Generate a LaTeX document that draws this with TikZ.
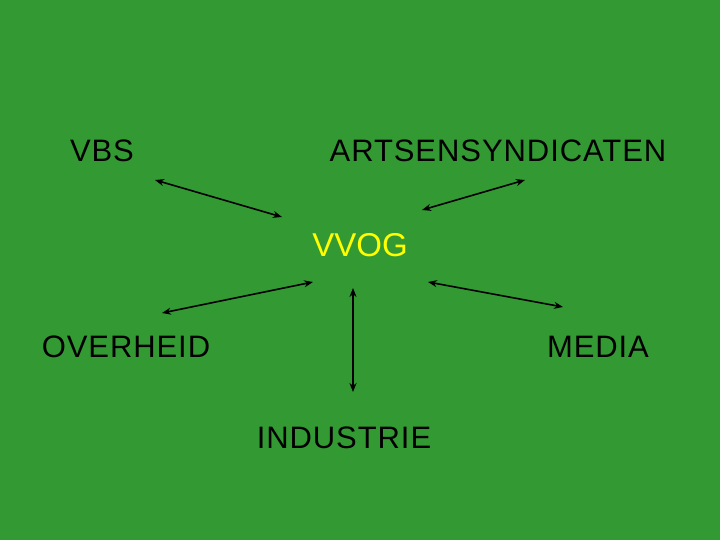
\documentclass[tikz,border=0pt]{standalone}
\usepackage{fontspec}
\setmainfont{Liberation Sans}
\usetikzlibrary{arrows.meta}
\definecolor{bg}{HTML}{339933}
\definecolor{vv}{HTML}{FFFF00}
\begin{document}
\begin{tikzpicture}[x=1pt,y=-1pt,
  lbl/.style={font=\addfontfeatures{LetterSpace=3}\fontsize{31}{36}\selectfont,text=black,inner sep=0pt},
  link/.style={{Stealth[length=9pt,width=7pt]}-{Stealth[length=9pt,width=7pt]},line width=1.6pt,black}]
\fill[bg] (0,0) rectangle (720,540);
\useasboundingbox (0,0) rectangle (720,540);
\node[lbl] (vbs) at (102,151) {VBS};
\node[lbl] (arts) at (498,151) {ARTSENSYNDICATEN};
\node[lbl,text=vv,font=\fontsize{33}{38}\selectfont] (vvog) at (360,245) {VVOG};
\node[lbl] (ov) at (126,347) {OVERHEID};
\node[lbl] (media) at (598,347) {MEDIA};
\node[lbl] (ind) at (344,438) {INDUSTRIE};
\coordinate (a1) at (155,180); \coordinate (b1) at (282,217);
\coordinate (a2) at (525,180); \coordinate (b2) at (422,210);
\coordinate (a3) at (313,282); \coordinate (b3) at (162,313);
\coordinate (a4) at (353,288); \coordinate (b4) at (353,392);
\coordinate (a5) at (428,282); \coordinate (b5) at (563,307);
\draw[link] (a1) -- (b1);
\draw[link] (a2) -- (b2);
\draw[link] (a3) -- (b3);
\draw[link] (a4) -- (b4);
\draw[link] (a5) -- (b5);
\end{tikzpicture}
\end{document}
